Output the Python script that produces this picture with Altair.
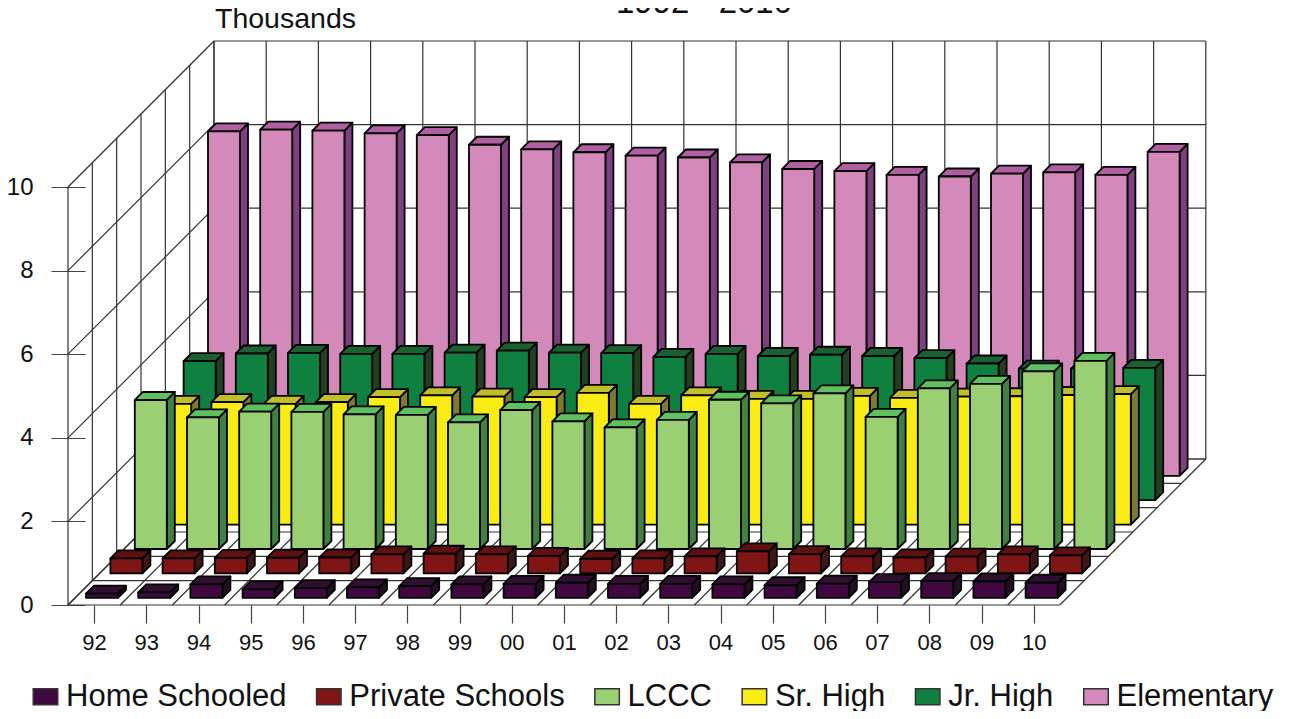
import altair as alt
import pandas as pd

years = ["92","93","94","95","96","97","98","99","00","01","02","03","04","05","06","07","08","09","10"]
home = [.10,.13,.32,.20,.23,.25,.28,.32,.335,.36,.335,.335,.32,.30,.34,.375,.40,.39,.36]
private = [.36,.36,.37,.375,.38,.455,.47,.455,.42,.35,.36,.405,.525,.46,.405,.38,.40,.455,.43]
lccc = [3.565,3.15,3.285,3.28,3.22,3.21,3.03,3.325,3.055,2.91,3.09,3.57,3.485,3.725,3.16,3.845,3.95,4.25,4.50]
senior = [2.89,2.93,2.89,2.93,3.05,3.09,3.06,3.05,3.15,2.89,3.09,3.01,3.01,3.08,3.03,3.06,3.07,3.10,3.12]
junior = [3.325,3.51,3.525,3.50,3.50,3.53,3.58,3.53,3.52,3.43,3.50,3.45,3.48,3.45,3.40,3.27,3.15,3.15,3.165]
elementary = [8.24,8.28,8.26,8.19,8.15,7.92,7.81,7.74,7.66,7.615,7.50,7.34,7.29,7.20,7.16,7.23,7.26,7.20,7.75]

names = ["Home Schooled","Private Schools","LCCC","Sr. High","Jr. High","Elementary"]
values = [home, private, lccc, senior, junior, elementary]
front_colors = ["#400840","#801515","#9BCF74","#F8EC14","#108040","#D38ABA"]
top_colors = ["#300F30","#601010","#60C060","#C2BE2A","#1A6030","#B060A0"]
side_colors = ["#201020","#401515","#408040","#7D7A30","#204020","#7F3F80"]

# oblique projection: one unit of depth expressed in category and value units
PX_CAT, PX_VAL, FLOOR = 52.2, 41.8, 146.0
DX, DY = FLOOR / PX_CAT, FLOOR / PX_VAL
BAR_W = 32 / PX_CAT
BAR_OFF = 10.8 / PX_CAT
BAR_D = 8 / FLOOR
SLOT = 24.4 / FLOOR
SLOT_OFF = 7.2 / FLOOR
WIDTH, HEIGHT = 1138, 564


def seg(c0, v0, d0, c1, v1, d1):
    return {"x": c0 + d0 * DX, "y": v0 + d0 * DY, "x2": c1 + d1 * DX, "y2": v1 + d1 * DY}


n = len(years)
lines = []
for v in range(0, 11, 2):
    lines.append(seg(0, v, 0, 0, v, 1))
    lines.append(seg(0, v, 1, n, v, 1))
for j in range(7):
    lines.append(seg(0, 0, j / 6, 0, 10, j / 6))
    lines.append(seg(0, 0, j / 6, n, 0, j / 6))
for c in range(n + 1):
    lines.append(seg(c, 0, 0, c, 0, 1))
    lines.append(seg(c, 0, 1, c, 10, 1))

xs = alt.Scale(domain=[0, WIDTH / PX_CAT], nice=False, zero=False)
ys = alt.Scale(domain=[0, HEIGHT / PX_VAL], nice=False, zero=False)
cs = alt.Scale(domain=names, range=front_colors)

label_list = "[" + ",".join(f"'{y}'" for y in years) + "]"
x_axis = alt.Axis(
    values=[i + 0.5 for i in range(n)], labelExpr=f"{label_list}[round(datum.value-0.5)]",
    title=None, grid=False, domain=False, tickSize=18, tickColor="#444", tickWidth=1.2,
    labelFontSize=22, labelFont="Liberation Sans", labelColor="#111", labelPadding=9,
    labelOverlap=False, labelFlush=False,
)
y_axis = alt.Axis(
    values=[0, 2, 4, 6, 8, 10], title=None, grid=False, domain=False, offset=-17,
    tickSize=34, tickColor="#444", tickWidth=1.2, labelFontSize=24,
    labelFont="Liberation Sans", labelColor="#111", labelPadding=18, labelOverlap=False,
)
X = alt.X("x:Q", scale=xs, axis=x_axis)
Y = alt.Y("y:Q", scale=ys, axis=y_axis)

grid = alt.Chart(pd.DataFrame(lines)).mark_rule(color="#333", strokeWidth=1.2).encode(
    x=X, x2="x2:Q", y=Y, y2="y2:Q",
)

layers = [grid]
EDGE = dict(stroke="#000", strokeWidth=1.8, strokeJoin="round")
for s in range(5, -1, -1):
    d0 = SLOT_OFF + SLOT * s
    d1 = d0 + BAR_D
    f_rows, t_rows, s_rows = [], [], []
    for i, val in enumerate(values[s]):
        left = i + BAR_OFF
        right = left + BAR_W
        f_rows.append({"series": names[s], "x": left + d0 * DX, "x2": right + d0 * DX,
                       "y": d0 * DY, "y2": val + d0 * DY})
        for d in (d0, d1):
            t_rows.append({"bar": i, "y": val + d * DY, "x": left + d * DX, "x2": right + d * DX})
            s_rows.append({"bar": i, "x": right + d * DX, "y": d * DY, "y2": val + d * DY})
    side = alt.Chart(pd.DataFrame(s_rows)).mark_area(color=side_colors[s], orient="vertical", **EDGE).encode(
        x=X, y=Y, y2="y2:Q", detail="bar:N",
    )
    top = alt.Chart(pd.DataFrame(t_rows)).mark_area(color=top_colors[s], orient="horizontal", **EDGE).encode(
        y=Y, x=X, x2="x2:Q", detail="bar:N",
    )
    front = alt.Chart(pd.DataFrame(f_rows)).mark_rect(**EDGE).encode(
        x=X, x2="x2:Q", y=Y, y2="y2:Q",
        color=alt.Color("series:N", scale=cs, legend=alt.Legend(
            orient="none", legendX=-38, legendY=640, direction="horizontal", columns=6,
            title=None, labelFont="Liberation Sans", labelFontSize=31, labelColor="#111",
            symbolType="M-1,-0.65H1V0.65H-1Z", symbolSize=600, symbolStrokeColor="#333",
            symbolStrokeWidth=1.5, labelOffset=5, columnPadding=26.3, labelLimit=400,
            symbolOffset=0,
        )),
    )
    layers += [side, top, front]

titles = ["Thousands", "1992 - 2010"]
t1 = alt.Chart(pd.DataFrame({"t": [titles[0]]})).mark_text(
    align="left", baseline="alphabetic", fontSize=28.5, font="Liberation Sans", color="#111"
).encode(text="t:N", x=alt.value(147), y=alt.value(-13))
t2 = alt.Chart(pd.DataFrame({"t": [titles[1]]})).mark_text(
    align="center", baseline="alphabetic", fontSize=33, font="Liberation Sans", color="#111"
).encode(text="t:N", x=alt.value(636), y=alt.value(-28))
layers += [t1, t2]

chart = alt.layer(*layers).resolve_scale(x="shared", y="shared").properties(
    width=WIDTH, height=HEIGHT,
    padding={"left": 60, "top": 33, "right": 93, "bottom": 106},
    autosize=alt.AutoSizeParams(type="none"),
).configure_view(stroke=None)

chart.save("out.html", embed_options={"renderer": "svg", "actions": False})
